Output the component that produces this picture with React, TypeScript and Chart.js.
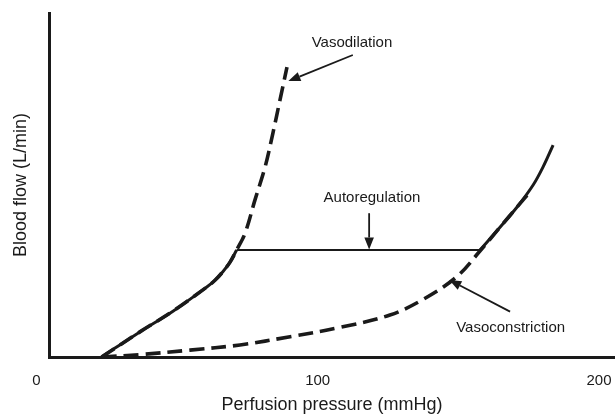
import React, { useEffect, useRef } from 'react';
import { Chart, registerables } from 'chart.js';

Chart.register(...registerables);

const FONT = '"Liberation Sans", Arial, Helvetica, sans-serif';
const INK = '#1a1a1a';

// Axis settings (data units)
const X_MIN = 4.5;
const X_MAX = 205.7;
const Y_MIN = 0;
const Y_MAX = 100;
const xTickValues = [0, 100, 200];
const xTitle = 'Perfusion pressure (mmHg)';
const yTitle = 'Blood flow (L/min)';

// Normal curve: rising part, autoregulation plateau, upper rise
const normalRiseX = [23.2, 36.8, 48.7, 60.6, 63.5, 66.3, 68.8, 71.2];
const normalRiseY = [0, 7.3, 13.4, 20.35, 22.3, 24.8, 27.5, 31.1];
const plateauX = [71.2, 157.7];
const plateauY = [31.1, 31.1];
const normalHighX = [157.7, 164.9, 170.9, 176.6, 180.1, 183.7];
const normalHighY = [31.1, 37.8, 43.6, 50.0, 55.2, 61.6];

// Vasodilation (dashed)
const vasodilationX = [23.2, 36.8, 48.7, 60.6, 63.5, 66.3, 68.8, 71.2, 74.2, 77.7, 81.3, 84.1, 86.6, 89.1];
const vasodilationY = [0, 7.3, 13.4, 20.35, 22.3, 24.8, 27.5, 31.1, 36.0, 45.6, 55.2, 65.1, 74.7, 84.3];

// Vasoconstriction (dashed)
const vasoconstrictionX = [23.2, 36.8, 54.6, 72.4, 90.2, 107.9, 125.7, 137.6, 149.4, 157.7, 164.9, 170.9, 175.5];
const vasoconstrictionY = [0, 0.7, 2.0, 3.5, 5.9, 8.6, 12.2, 16.8, 23.3, 30.8, 37.8, 43.6, 48.0];

// Annotation labels and arrows (in data coordinates)
const annotationTexts = ['Vasodilation', 'Autoregulation', 'Vasoconstriction'];
const annotationTextAt = [
  [112.2, 91.4],
  [119.3, 46.2],
  [168.6, 8.6],
];
const annotationArrowFrom = [
  [112.5, 87.8],
  [118.3, 41.8],
  [168.4, 13.2],
];
const annotationArrowTo = [
  [89.6, 80.2],
  [118.3, 31.25],
  [146.8, 22.4],
];

const pts = (xs: number[], ys: number[]) => xs.map((x, i) => ({ x, y: ys[i] }));

const annotationPlugin = {
  id: 'annotations',
  afterDatasetsDraw(chart: any) {
    const { ctx } = chart;
    const xs = chart.scales.x;
    const ys = chart.scales.y;
    ctx.save();
    ctx.fillStyle = INK;
    ctx.strokeStyle = INK;
    ctx.font = `15px ${FONT}`;
    ctx.textAlign = 'center';
    ctx.textBaseline = 'middle';
    annotationTexts.forEach((t, i) => {
      const tx = xs.getPixelForValue(annotationTextAt[i][0]);
      const ty = ys.getPixelForValue(annotationTextAt[i][1]);
      ctx.fillText(t, tx, ty);
      const x1 = xs.getPixelForValue(annotationArrowFrom[i][0]);
      const y1 = ys.getPixelForValue(annotationArrowFrom[i][1]);
      const x2 = xs.getPixelForValue(annotationArrowTo[i][0]);
      const y2 = ys.getPixelForValue(annotationArrowTo[i][1]);
      const ang = Math.atan2(y2 - y1, x2 - x1);
      const headLen = 12;
      const headHalf = 4.8;
      const bx = x2 - headLen * Math.cos(ang);
      const by = y2 - headLen * Math.sin(ang);
      ctx.lineWidth = 1.8;
      ctx.beginPath();
      ctx.moveTo(x1, y1);
      ctx.lineTo(bx, by);
      ctx.stroke();
      ctx.beginPath();
      ctx.moveTo(x2, y2);
      ctx.lineTo(bx + headHalf * Math.sin(ang), by - headHalf * Math.cos(ang));
      ctx.lineTo(bx - headHalf * Math.sin(ang), by + headHalf * Math.cos(ang));
      ctx.closePath();
      ctx.fill();
    });
    ctx.restore();
  },
};

export default function App() {
  const ref = useRef<HTMLCanvasElement>(null);
  useEffect(() => {
    if (!ref.current) return;
    const solid = { borderColor: INK, borderWidth: 3, pointRadius: 0, fill: false, tension: 0.35 };
    const dashed = { borderColor: INK, borderWidth: 3.6, borderDash: [15, 7], borderCapStyle: 'butt' as const, pointRadius: 0, fill: false, tension: 0.35 };
    const chart = new Chart(ref.current, {
      type: 'line',
      data: {
        datasets: [
          { label: 'Normal (low)', data: pts(normalRiseX, normalRiseY), ...solid },
          { label: 'Autoregulation', data: pts(plateauX, plateauY), ...solid, borderWidth: 2, tension: 0 },
          { label: 'Normal (high)', data: pts(normalHighX, normalHighY), ...solid },
          { label: 'Vasodilation', data: pts(vasodilationX, vasodilationY), ...dashed },
          { label: 'Vasoconstriction', data: pts(vasoconstrictionX, vasoconstrictionY), ...dashed },
        ],
      },
      options: {
        responsive: false,
        animation: false,
        devicePixelRatio: 1,
        layout: { padding: { top: 13, left: 0, right: 0, bottom: 0 } },
        plugins: { legend: { display: false }, tooltip: { enabled: false } },
        scales: {
          x: {
            type: 'linear',
            min: X_MIN,
            max: X_MAX,
            grid: { display: false, drawTicks: false },
            border: { display: true, color: INK, width: 3 },
            ticks: { font: { family: FONT, size: 15 }, color: INK, padding: 15, autoSkip: false, maxRotation: 0 },
            afterBuildTicks: (s: any) => {
              s.ticks = xTickValues.map((v) => ({ value: v }));
            },
            afterFit: (s: any) => {
              s.height = 59;
              s.paddingLeft = 0;
              s.paddingRight = 0;
            },
            title: { display: true, text: xTitle, font: { family: FONT, size: 18 }, color: INK, padding: { top: 0, bottom: 0 } },
          },
          y: {
            type: 'linear',
            min: Y_MIN,
            max: Y_MAX,
            grid: { display: false, drawTicks: false },
            border: { display: true, color: INK, width: 3 },
            ticks: { display: false },
            afterFit: (s: any) => {
              s.width = 49;
            },
            title: { display: true, text: yTitle, font: { family: FONT, size: 18 }, color: INK, padding: { top: 10, bottom: 0 } },
          },
        },
      },
      plugins: [annotationPlugin],
    });
    return () => chart.destroy();
  }, []);
  return (
    <div style={{ position: 'absolute', left: 0, top: 0, width: 615, height: 416, background: '#fff' }}>
      <canvas ref={ref} width={615} height={416} style={{ display: 'block', width: 615, height: 416 }} />
    </div>
  );
}
